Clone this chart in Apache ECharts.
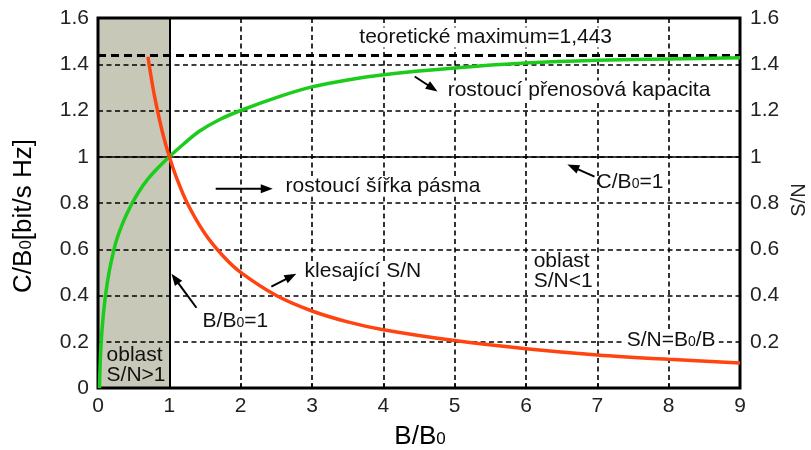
<!DOCTYPE html>
<html>
<head>
<meta charset="utf-8">
<script src="https://cdn.jsdelivr.net/npm/echarts@6/dist/echarts.min.js"></script>
<style>
  html, body { margin: 0; padding: 0; background: #fff; }
  #main { width: 811px; height: 450px; }
</style>
</head>
<body>
<div id="main"></div>
<script>
// C/B0 (capacity) curve
var greenX = [0.02, 0.03, 0.045, 0.07, 0.105, 0.155, 0.225, 0.27, 0.33, 0.4, 0.48, 0.575, 0.69, 0.835, 1.0, 1.2, 1.42, 1.7, 2.0, 2.55, 3, 3.5, 4, 5, 6, 7, 8, 9];
var greenY = [0, 0.1, 0.2, 0.3, 0.4, 0.5, 0.6, 0.65, 0.7, 0.75, 0.8, 0.85, 0.9, 0.95, 1.0, 1.055, 1.11, 1.16, 1.2, 1.261, 1.302, 1.332, 1.355, 1.384, 1.405, 1.417, 1.423, 1.428];
// S/N curve
var redX = [0.7, 0.75, 0.8, 0.9, 1, 1.1, 1.25, 1.5, 1.75, 2, 2.5, 3, 3.5, 4, 5, 6, 7, 8, 9];
var redY = [1.432, 1.335, 1.25, 1.11, 1.0, 0.91, 0.8, 0.667, 0.572, 0.5, 0.4, 0.333, 0.286, 0.252, 0.205, 0.17, 0.143, 0.124, 0.108];
// shaded region S/N>1
var shadeX = [0, 1];
var shadeY = [1.6, 1.6];
var maxCap = 1.443;
var unitLevel = 1;

var font = 'Liberation Sans, Arial, sans-serif';

function pairs(xs, ys) {
  return xs.map(function (x, i) { return [x, ys[i]]; });
}

var gridLine = { color: '#000', type: [5, 3.5], width: 1.6 };

var chart = echarts.init(document.getElementById('main'));

var option = {
  animation: false,
  grid: { left: 98, right: 71, top: 18, bottom: 62, show: true, borderColor: '#000', borderWidth: 3 },
  xAxis: {
    type: 'value', min: 0, max: 9, interval: 1,
    axisLine: { show: false },
    axisTick: { inside: true, length: 5, lineStyle: { color: '#000', width: 1.5 } },
    splitLine: { show: true, lineStyle: gridLine },
    axisLabel: { fontSize: 21, color: '#222', margin: 8, fontFamily: font }
  },
  yAxis: [
    {
      type: 'value', min: 0, max: 1.6, interval: 0.2, position: 'left',
      axisLine: { show: false }, axisTick: { show: false },
      splitLine: { show: true, lineStyle: gridLine },
      axisLabel: {
        fontSize: 21, color: '#222', margin: 9, fontFamily: font,
        formatter: function (v) { return String(+v.toFixed(1)); }
      }
    },
    {
      type: 'value', min: 0, max: 1.6, interval: 0.2, position: 'right',
      axisLine: { show: false }, axisTick: { show: false },
      splitLine: { show: false },
      axisLabel: {
        fontSize: 21, color: '#222', margin: 10, fontFamily: font,
        formatter: function (v) { return v === 0 ? '' : String(+v.toFixed(1)); }
      }
    }
  ],
  series: [
    {
      name: 'shade', type: 'line', data: pairs(shadeX, shadeY), symbol: 'none', silent: true, z: -1,
      lineStyle: { width: 0 },
      areaStyle: { color: '#c8c8b8', opacity: 1, origin: 'start' }
    },
    {
      name: 'refs', type: 'line', data: [], z: 3, silent: true,
      markLine: {
        silent: true, symbol: 'none', label: { show: false },
        data: [
          { xAxis: unitLevel, lineStyle: { color: '#000', type: 'solid', width: 2 } },
          { yAxis: unitLevel, lineStyle: { color: '#000', type: 'solid', width: 1.6 } },
          { yAxis: maxCap, lineStyle: { color: '#000', type: [8, 5], width: 3 } }
        ]
      }
    },
    {
      name: 'C/B0', type: 'line', data: pairs(greenX, greenY), smooth: 0.3,
      symbol: 'none', z: 5, lineStyle: { color: '#1ccc1c', width: 3.5 }
    },
    {
      name: 'S/N', type: 'line', yAxisIndex: 1, data: pairs(redX, redY), smooth: 0.35,
      symbol: 'none', z: 5, lineStyle: { color: '#ff4411', width: 3.5 }
    }
  ]
};
chart.setOption(option);

// annotations placed in data coordinates
var sub = { a: { fontSize: 21, fontFamily: font, color: '#111' }, s: { fontSize: 14, fontFamily: font, color: '#111', verticalAlign: 'bottom', padding: [0, 0, 1, 0] } };
var notes = [
  { at: [5.435, 1.516], text: 'teoretické maximum=1,443', align: 'center', bg: true },
  { at: [4.86, 1.286], text: 'rostoucí přenosová kapacita', align: 'left', bg: true },
  { at: [2.587, 0.871], text: 'rostoucí šířka pásma', align: 'left', bg: true },
  { at: [6.99, 0.892], text: '{a|C/B}{s|0}{a|=1}', align: 'left', bg: false },
  { at: [1.424, 0.290], text: '{a|B/B}{s|0}{a|=1}', align: 'left', bg: true },
  { at: [2.854, 0.503], text: 'klesající S/N', align: 'left', bg: true },
  { at: [6.107, 0.503], text: 'oblast\nS/N<1', align: 'left', bg: false },
  { at: [7.37, 0.208], text: '{a|S/N=B}{s|0}{a|/B}', align: 'left', bg: true },
  { at: [0.12, 0.10], text: 'oblast\nS/N>1', align: 'left', bg: false }
];
var arrows = [
  [[4.44, 1.347], [4.76, 1.282]],
  [[1.65, 0.862], [2.45, 0.862]],
  [[6.96, 0.914], [6.58, 0.966]],
  [[1.38, 0.347], [1.03, 0.494]],
  [[2.43, 0.438], [2.78, 0.494]]
];

function px(p) { return chart.convertToPixel({ xAxisIndex: 0, yAxisIndex: 0 }, p); }

var graphics = [];
notes.forEach(function (n) {
  var p = px(n.at);
  graphics.push({
    type: 'text', x: p[0], y: p[1], z: 10,
    style: {
      text: n.text, rich: sub, fontSize: 21, fontFamily: font, fill: '#111',
      align: n.align, verticalAlign: 'middle', lineHeight: 20,
      backgroundColor: n.bg ? '#fff' : 'transparent', padding: n.bg ? [0, 3] : 0
    }
  });
});
arrows.forEach(function (a) {
  var p0 = px(a[0]), p1 = px(a[1]);
  var dx = p1[0] - p0[0], dy = p1[1] - p0[1], L = Math.sqrt(dx * dx + dy * dy);
  var ux = dx / L, uy = dy / L, hl = 12, hw = 4.5;
  var bx = p1[0] - ux * hl, by = p1[1] - uy * hl;
  graphics.push({ type: 'line', z: 10, shape: { x1: p0[0], y1: p0[1], x2: bx + ux * 2, y2: by + uy * 2 }, style: { stroke: '#000', lineWidth: 2 } });
  graphics.push({ type: 'polygon', z: 10, shape: { points: [p1, [bx - uy * hw, by + ux * hw], [bx + uy * hw, by - ux * hw]] }, style: { fill: '#000' } });
});
// axis titles
var big = { a: { fontSize: 26, fontFamily: font, color: '#222' }, s: { fontSize: 17, fontFamily: font, color: '#222', verticalAlign: 'bottom', padding: [0, 0, 2, 0] } };
graphics.push({ type: 'text', x: 24, y: 216, rotation: Math.PI / 2, style: { text: '{a|C/B}{s|0}{a|[bit/s Hz]}', rich: big, align: 'center', verticalAlign: 'middle' } });
graphics.push({ type: 'text', x: 420, y: 437, style: { text: '{a|B/B}{s|0}', rich: big, align: 'center', verticalAlign: 'middle' } });
graphics.push({ type: 'text', x: 799, y: 200, rotation: Math.PI / 2, style: { text: 'S/N', fontSize: 20, fontFamily: font, fill: '#222', align: 'center', verticalAlign: 'middle' } });

chart.setOption({ graphic: graphics });
</script>
</body>
</html>
